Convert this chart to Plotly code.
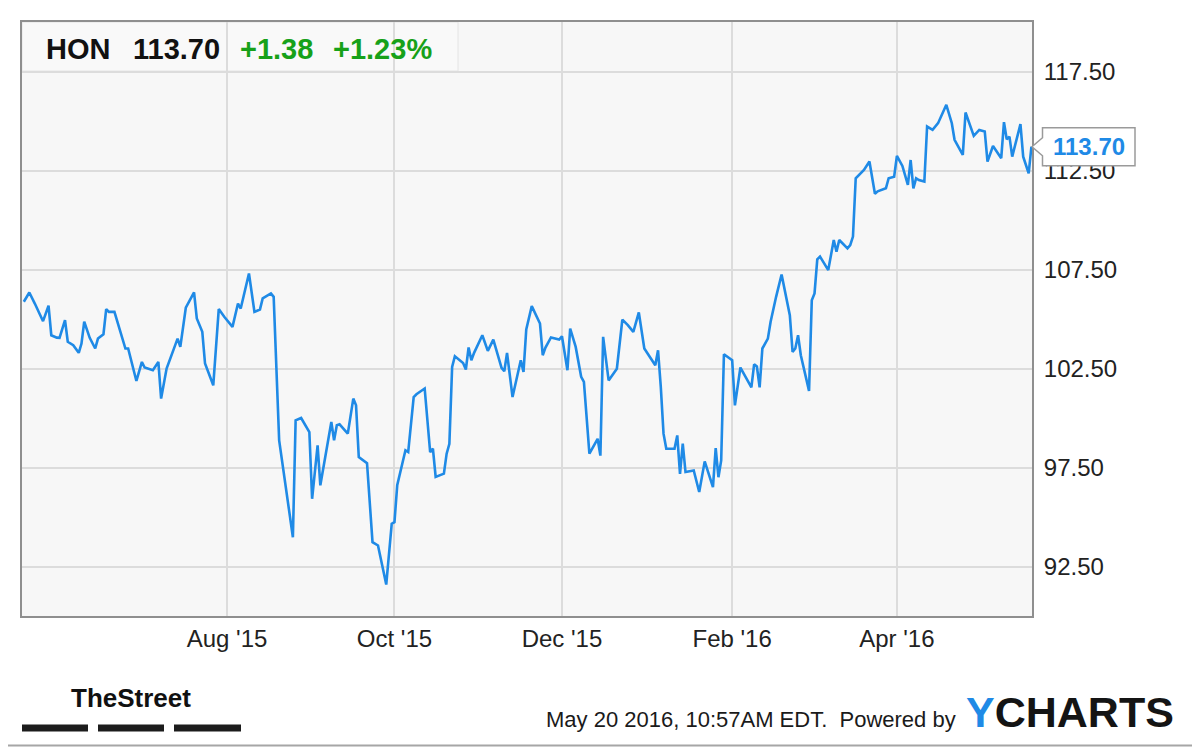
import plotly.graph_objects as go

# HON daily closes, May 2015 - May 2016
dates = [
    "2015-05-19", "2015-05-21", "2015-05-23", "2015-05-26", "2015-05-28", "2015-05-29", "2015-05-31",
    "2015-06-01", "2015-06-03", "2015-06-04", "2015-06-06", "2015-06-08", "2015-06-09", "2015-06-10",
    "2015-06-12", "2015-06-14", "2015-06-15", "2015-06-17", "2015-06-18", "2015-06-19", "2015-06-21",
    "2015-06-25", "2015-06-26", "2015-06-29",
    "2015-07-01", "2015-07-02", "2015-07-05", "2015-07-07", "2015-07-08", "2015-07-10", "2015-07-13",
    "2015-07-14", "2015-07-15", "2015-07-17", "2015-07-20", "2015-07-21", "2015-07-23", "2015-07-24",
    "2015-07-27", "2015-07-29", "2015-07-31",
    "2015-08-03", "2015-08-05", "2015-08-06", "2015-08-09", "2015-08-11", "2015-08-13", "2015-08-14",
    "2015-08-17", "2015-08-18", "2015-08-20", "2015-08-25", "2015-08-26", "2015-08-28", "2015-08-31",
    "2015-09-01", "2015-09-03", "2015-09-04", "2015-09-08", "2015-09-09", "2015-09-10", "2015-09-11",
    "2015-09-14", "2015-09-16", "2015-09-17", "2015-09-18", "2015-09-21", "2015-09-23", "2015-09-25",
    "2015-09-28", "2015-09-30",
    "2015-10-01", "2015-10-02", "2015-10-05", "2015-10-06", "2015-10-08", "2015-10-09", "2015-10-12",
    "2015-10-14", "2015-10-15", "2015-10-16", "2015-10-19", "2015-10-20", "2015-10-21", "2015-10-22",
    "2015-10-23", "2015-10-26", "2015-10-27", "2015-10-28", "2015-10-29", "2015-10-30",
    "2015-11-02", "2015-11-04", "2015-11-06", "2015-11-09", "2015-11-10", "2015-11-11", "2015-11-13",
    "2015-11-16", "2015-11-17", "2015-11-18", "2015-11-20", "2015-11-23", "2015-11-24", "2015-11-25",
    "2015-11-27", "2015-11-30",
    "2015-12-01", "2015-12-03", "2015-12-04", "2015-12-06", "2015-12-08", "2015-12-09", "2015-12-11",
    "2015-12-14", "2015-12-15", "2015-12-16", "2015-12-18", "2015-12-21", "2015-12-23", "2015-12-25",
    "2015-12-27", "2015-12-29", "2015-12-31",
    "2016-01-04", "2016-01-05", "2016-01-06", "2016-01-07", "2016-01-08", "2016-01-11", "2016-01-12",
    "2016-01-13", "2016-01-14", "2016-01-15", "2016-01-18", "2016-01-20", "2016-01-22", "2016-01-25",
    "2016-01-26", "2016-01-27", "2016-01-28", "2016-01-29",
    "2016-02-01", "2016-02-02", "2016-02-04", "2016-02-06", "2016-02-08", "2016-02-09", "2016-02-10",
    "2016-02-11", "2016-02-12", "2016-02-14", "2016-02-15", "2016-02-17", "2016-02-19", "2016-02-22",
    "2016-02-23", "2016-02-24", "2016-02-25", "2016-02-26", "2016-02-29",
    "2016-03-01", "2016-03-02", "2016-03-03", "2016-03-04", "2016-03-07", "2016-03-09", "2016-03-10",
    "2016-03-11", "2016-03-14", "2016-03-15", "2016-03-16", "2016-03-17", "2016-03-20", "2016-03-22",
    "2016-03-24", "2016-03-25", "2016-03-28", "2016-03-29", "2016-03-31",
    "2016-04-01", "2016-04-03", "2016-04-05", "2016-04-06", "2016-04-07", "2016-04-08", "2016-04-09",
    "2016-04-11", "2016-04-12", "2016-04-14", "2016-04-16", "2016-04-19", "2016-04-21", "2016-04-22",
    "2016-04-25", "2016-04-26", "2016-04-29",
    "2016-05-01", "2016-05-03", "2016-05-04", "2016-05-06", "2016-05-09", "2016-05-10", "2016-05-11",
    "2016-05-12", "2016-05-13", "2016-05-16", "2016-05-17", "2016-05-19", "2016-05-20",
]

closes = [
    105.87, 106.34, 105.78, 104.89, 105.67, 104.18, 104.06,
    104.05, 104.94, 103.85, 103.68, 103.29, 103.76, 104.86,
    104.05, 103.51, 104.01, 104.23, 105.50, 105.36, 105.36,
    103.51, 103.51, 101.87,
    102.83, 102.55, 102.41, 102.83, 100.98, 102.50, 103.63,
    104.01, 103.59, 105.57, 106.34, 105.03, 104.35, 102.75,
    101.65, 105.50, 105.11,
    104.60, 105.78, 105.53, 107.30, 105.36, 105.48, 106.04,
    106.29, 106.12, 98.87, 93.98, 99.88, 100.00, 99.29,
    95.92, 98.62, 96.60, 99.80, 98.87, 99.63, 99.68,
    99.21, 100.98, 100.64, 98.03, 97.72, 93.73, 93.56,
    91.59, 94.66,
    94.74, 96.60, 98.37, 98.28, 101.06, 101.20, 101.49,
    98.28, 98.45, 97.02, 97.19, 98.20, 98.70, 102.58,
    103.12, 102.78, 102.45, 103.56, 102.92, 103.29,
    104.18, 103.39, 103.96, 102.53, 102.36, 103.29, 101.06,
    102.92, 102.33, 104.47, 105.65, 104.77, 103.17, 103.56,
    104.07, 103.96,
    104.13, 102.41, 104.52, 103.59, 102.08, 101.82, 98.20,
    98.95, 98.10, 104.10, 101.90, 102.49, 104.97, 104.69,
    104.35, 105.33, 103.51,
    102.66, 103.42, 101.57, 99.21, 98.45, 98.45, 99.12,
    97.18, 98.70, 97.27, 97.35, 96.26, 97.81, 96.51,
    98.48, 97.01, 97.86, 103.22,
    102.92, 100.64, 102.55, 102.07, 101.55, 102.71, 102.60,
    101.55, 103.51, 104.01, 104.86, 106.12, 107.25, 105.19,
    103.34, 103.51, 104.18, 103.17, 101.37,
    105.95, 106.29, 108.01, 108.15, 107.47, 108.99, 108.40,
    108.99, 108.57, 108.73, 109.16, 112.11, 112.53, 112.95,
    111.33, 111.45, 111.60, 112.11, 112.19,
    113.24, 112.73, 111.77, 113.03, 111.60, 112.11, 112.02,
    111.94, 114.72, 114.55, 114.89, 115.82, 114.89, 114.05,
    113.29, 115.43, 114.25,
    114.55, 114.47, 112.95, 113.74, 113.12, 114.94, 114.08,
    114.21, 113.20, 114.84, 113.20, 112.36, 113.70,
]

x_tickvals = ["2015-08-01", "2015-10-01", "2015-12-01", "2016-02-01", "2016-04-01"]
x_ticktext = ["Aug '15", "Oct '15", "Dec '15", "Feb '16", "Apr '16"]
y_tickvals = [92.5, 97.5, 102.5, 107.5, 112.5, 117.5]
y_ticktext = ["92.50", "97.50", "102.50", "107.50", "112.50", "117.50"]

ticker = "HON"
last_price = "113.70"
change = "+1.38"
change_pct = "+1.23%"
timestamp = "May 20 2016, 10:57AM EDT.  Powered by"

X_RANGE = ["2015-05-18 08:00", "2016-05-20 05:00"]
Y_MIN, Y_MAX = 90.0, 120.0

BLUE = "#1f8ae6"
GREEN = "#17a119"
FONT = "Liberation Sans, Arial, sans-serif"

# the page body adds an 8px margin, so the figure is drawn 8px smaller
# and every page-pixel position below is shifted back by OFF
OFF = 8
W, H = 1200 - OFF, 747 - OFF
ML, MR, MT, MB = 22 - OFF, 168, 22 - OFF, 131
PW, PH = W - ML - MR, H - MT - MB


def fx(px):
    return (px - OFF - ML) / PW


def fy(py):
    return (H - MB - (py - OFF)) / PH


fig = go.Figure()

fig.add_trace(go.Scatter(
    x=dates,
    y=closes,
    mode="lines",
    line=dict(color=BLUE, width=2.6),
    hoverinfo="skip",
    showlegend=False,
))

shapes = []
# header box inside the plot
shapes.append(dict(type="rect", xref="paper", yref="paper",
                   x0=0, x1=fx(458), y0=fy(71), y1=1,
                   fillcolor="#f9f9f9", line=dict(color="#e4e4e4", width=1),
                   layer="below"))
# outer image border (right and bottom edges fall inside the figure)
shapes.append(dict(type="rect", xref="paper", yref="paper",
                   x0=fx(1), x1=fx(1197.5), y0=fy(745.5), y1=fy(1),
                   line=dict(color="#a6a6a6", width=2), fillcolor="rgba(0,0,0,0)"))
# TheStreet bars
for bx0, bx1 in [(22, 88), (98, 164), (174, 241)]:
    shapes.append(dict(type="rect", xref="paper", yref="paper",
                       x0=fx(bx0), x1=fx(bx1), y0=fy(731.5), y1=fy(724.5),
                       fillcolor="#1c1c1c", line=dict(width=0)))

# last price callout with pointer
last = closes[-1]
ly = (last - Y_MIN) / (Y_MAX - Y_MIN)
hh = 19 / PH
notch = 9 / PH
bx0, bx1, tip = fx(1042.5), fx(1135), fx(1032)
path = (f"M {bx0},{ly + hh} L {bx1},{ly + hh} L {bx1},{ly - hh} L {bx0},{ly - hh} "
        f"L {bx0},{ly - notch} L {tip},{ly} L {bx0},{ly + notch} Z")
shapes.append(dict(type="path", xref="paper", yref="paper", path=path,
                   fillcolor="white", line=dict(color="#9a9a9a", width=1.5)))

annotations = [
    dict(text=f"<b>{ticker}</b>", x=fx(44), y=fy(49.5), xanchor="left", yanchor="middle",
         font=dict(size=29, color="#111111", family=FONT)),
    dict(text=f"<b>{last_price}</b>", x=fx(131), y=fy(49.5), xanchor="left", yanchor="middle",
         font=dict(size=29, color="#111111", family=FONT)),
    dict(text=f"<b>{change}</b>", x=fx(238), y=fy(49.5), xanchor="left", yanchor="middle",
         font=dict(size=29, color=GREEN, family=FONT)),
    dict(text=f"<b>{change_pct}</b>", x=fx(331), y=fy(49.5), xanchor="left", yanchor="middle",
         font=dict(size=29, color=GREEN, family=FONT)),
    dict(text=f"<b>{last:.2f}</b>", x=(bx0 + bx1) / 2, y=ly, xanchor="center", yanchor="middle",
         font=dict(size=24, color=BLUE, family=FONT)),
    dict(text="<b>TheStreet</b>", x=fx(131), y=fy(698), xanchor="center", yanchor="middle",
         font=dict(size=26, color="#111111", family=FONT)),
    dict(text=timestamp, x=fx(958), y=fy(719), xanchor="right", yanchor="middle",
         font=dict(size=22, color="#1a1a1a", family=FONT)),
    dict(text=f"<b><span style='color:{BLUE}'>Y</span>CHARTS</b>", x=fx(964), y=fy(712),
         xanchor="left", yanchor="middle",
         font=dict(size=43, color="#141414", family=FONT)),
]
for a in annotations:
    a.update(xref="paper", yref="paper", showarrow=False)

fig.update_layout(
    width=W,
    height=H,
    margin=dict(l=ML, r=MR, t=MT, b=MB, pad=0),
    paper_bgcolor="white",
    plot_bgcolor="#f7f7f7",
    showlegend=False,
    hovermode=False,
    shapes=shapes,
    annotations=annotations,
    font=dict(family=FONT, color="#222222"),
    xaxis=dict(
        type="date",
        range=X_RANGE,
        tickvals=x_tickvals,
        ticktext=x_ticktext,
        tickfont=dict(size=24, color="#222222"),
        ticks="", automargin=False,
        showgrid=True, gridcolor="#dcdcdc", gridwidth=1.5,
        showline=True, linecolor="#8f8f8f", linewidth=2, mirror=True,
        zeroline=False,
    ),
    yaxis=dict(
        side="right",
        range=[Y_MIN, Y_MAX],
        tickvals=y_tickvals,
        ticktext=y_ticktext,
        tickfont=dict(size=24, color="#222222"),
        ticks="outside", ticklen=5, tickcolor="rgba(0,0,0,0)", automargin=False,
        showgrid=True, gridcolor="#dcdcdc", gridwidth=1.5,
        showline=True, linecolor="#8f8f8f", linewidth=2, mirror=True,
        zeroline=False,
    ),
)

fig.write_html("out.html")
